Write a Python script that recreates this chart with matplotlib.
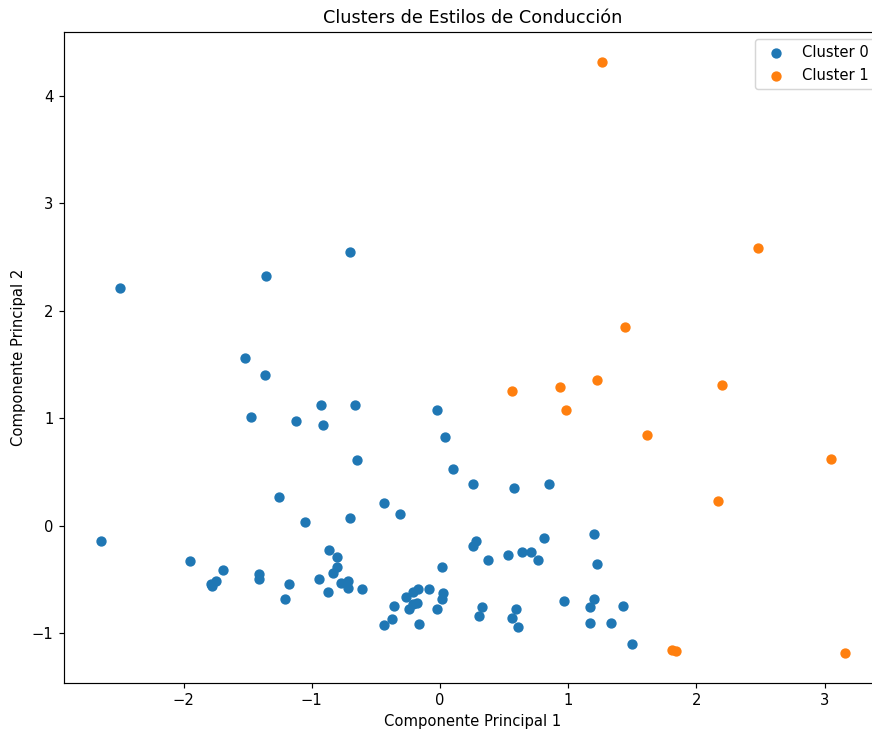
import matplotlib
matplotlib.use('Agg')
import matplotlib.pyplot as plt
import numpy as np

# puntos (PCA, 2 componentes)
cluster0_x = [-2.643, -2.495, -1.360, -0.701, -1.519, -1.366, -1.475, -1.127, -0.932, -0.911,
              -0.665, -0.026, 0.036, -0.644, 0.104, 0.257, 0.579, 0.846, -1.259, -1.057,
              -0.703, -0.436, -0.309, -1.947, -1.690, -1.747, -1.783, -1.778, -1.415, -1.415,
              -1.179, -1.212, -0.867, -0.802, -0.805, -0.836, -0.948, -0.877, -0.774, -0.719,
              -0.719, -0.610, 0.018, -0.361, -0.374, -0.439, -0.265, -0.208, -0.171, -0.241,
              -0.182, -0.210, -0.166, -0.086, 0.026, 0.013, -0.026, 0.283, 0.254, 0.376,
              0.527, 0.639, 0.706, 0.761, 0.813, 0.966, 0.330, 0.301, 0.589, 0.563,
              0.607, 1.202, 1.223, 1.199, 1.171, 1.425, 1.166, 1.334, 1.495]
cluster0_y = [-0.146, 2.210, 2.320, 2.551, 1.561, 1.400, 1.009, 0.971, 1.120, 0.940,
              1.124, 1.077, 0.829, 0.608, 0.524, 0.391, 0.354, 0.385, 0.270, 0.037,
              0.072, 0.214, 0.109, -0.326, -0.416, -0.515, -0.540, -0.565, -0.450, -0.500,
              -0.540, -0.686, -0.223, -0.289, -0.385, -0.444, -0.494, -0.618, -0.534, -0.518,
              -0.581, -0.593, -0.385, -0.745, -0.866, -0.922, -0.667, -0.621, -0.593, -0.773,
              -0.720, -0.730, -0.912, -0.593, -0.630, -0.680, -0.779, -0.140, -0.190, -0.323,
              -0.270, -0.242, -0.248, -0.317, -0.112, -0.701, -0.757, -0.838, -0.773, -0.857,
              -0.944, -0.078, -0.360, -0.680, -0.757, -0.751, -0.910, -0.910, -1.099]

cluster1_x = [1.267, 2.482, 1.443, 0.558, 0.932, 1.228, 2.196, 0.984, 1.615, 3.048,
              2.170, 1.807, 1.840, 3.157]
cluster1_y = [4.320, 2.586, 1.850, 1.251, 1.288, 1.353, 1.313, 1.077, 0.841, 0.624,
              0.233, -1.157, -1.164, -1.189]

DPI = 106
fig = plt.figure(figsize=(872/DPI, 729/DPI), dpi=DPI)
ax = fig.add_axes([64/872, 1 - 683/729, (882 - 64)/872, (683 - 32)/729])

ax.scatter(cluster0_x, cluster0_y, label='Cluster 0')
ax.scatter(cluster1_x, cluster1_y, label='Cluster 1')

ax.set_title('Clusters de Estilos de Conducción')
ax.set_xlabel('Componente Principal 1')
ax.set_ylabel('Componente Principal 2')
ax.legend(loc='upper right')

fig.savefig('out.png', dpi=DPI)
